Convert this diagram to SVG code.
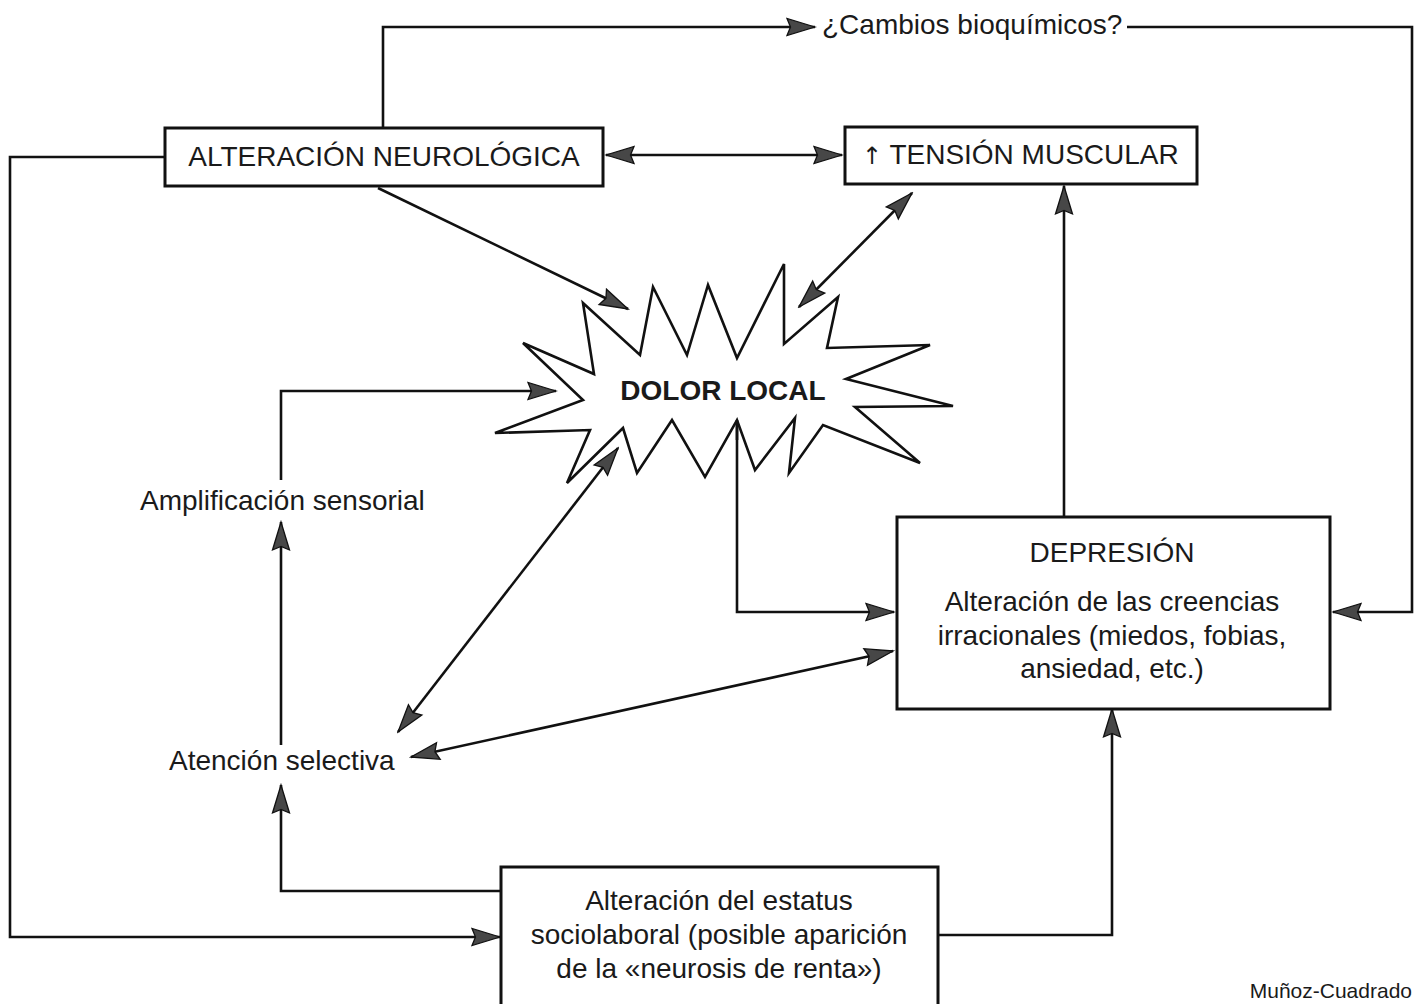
<svg xmlns="http://www.w3.org/2000/svg" width="1420" height="1004" viewBox="0 0 1420 1004">
<defs>
<marker id="ah" viewBox="-30 -10 32 20" refX="0" refY="0" markerWidth="32" markerHeight="20" markerUnits="userSpaceOnUse" orient="auto-start-reverse">
<path d="M0,0 L-28,-8.5 L-24.5,0 L-28,8.5 Z" fill="#474747" stroke="#111" stroke-width="1.3" stroke-linejoin="miter"/>
</marker>
<style>
.t{font-family:"Liberation Sans","DejaVu Sans",Arial,sans-serif;font-size:28px;fill:#1a1a1a}
.c{text-anchor:middle}
.box{fill:#fff;stroke:#111;stroke-width:3}
.ln{fill:none;stroke:#111;stroke-width:2.6;stroke-linejoin:miter}
.a1{marker-end:url(#ah)}
.a2{marker-start:url(#ah);marker-end:url(#ah)}
</style>
</defs>
<rect width="1420" height="1004" fill="#fff"/>

<g id="connectors">
<path class="ln a1" d="M383,128 V27 H815"/>
<path class="ln a1" d="M1127,27 H1412 V612 H1333"/>
<path class="ln a2" d="M606,155 H842"/>
<path class="ln a1" d="M165,157 H10 V937 H500"/>
<path class="ln a1" d="M378,188 L628,309"/>
<path class="ln a2" d="M912,193 L799,307"/>
<path class="ln a1" d="M1064,517 V186"/>
<path class="ln a1" d="M281,480 V391 H556"/>
<path class="ln a1" d="M281,745 V522"/>
<path class="ln a2" d="M398,732 L618,448"/>
<path class="ln a2" d="M411,757 L893,651"/>
<path class="ln a1" d="M737,421 V612 H894"/>
<path class="ln a1" d="M501,891 H281 V785"/>
<path class="ln a1" d="M938,935 H1112 V709"/>
</g>

<g id="n-cambios">
<text class="t" x="822" y="34">¿Cambios bioquímicos?</text>
</g>

<g id="n-neuro">
<rect class="box" x="165" y="128" width="438" height="58"/>
<text class="t c" x="384" y="166">ALTERACIÓN NEUROLÓGICA</text>
</g>

<g id="n-tension">
<rect class="box" x="845" y="127" width="352" height="57"/>
<text class="t" x="862" y="164"><tspan style="font-family:'DejaVu Sans',sans-serif;font-size:24px">↑</tspan> TENSIÓN MUSCULAR</text>
</g>

<g id="n-dolor">
<polygon points="583,303 640,355 653,287 687,355 708,285 737,358 784,264 784,344 838,297 827,348 930,345 846,379 953,406 855,407 920,463 823,425 789,473 795,418 755,470 737,420 705,477 672,420 637,473 623,428 567,483 590,430 495,433 583,400 523,343 594,374" fill="#fff" stroke="#111" stroke-width="2.6" stroke-linejoin="miter"/>
<line x1="737" y1="420" x2="737" y2="440" stroke="#111" stroke-width="2.6"/>
<text class="t c" x="723" y="400" style="font-weight:bold">DOLOR LOCAL</text>
</g>

<g id="n-amplificacion">
<text class="t" x="140" y="510">Amplificación sensorial</text>
</g>

<g id="n-atencion">
<text class="t" x="169" y="770">Atención selectiva</text>
</g>

<g id="n-depresion">
<rect class="box" x="897" y="517" width="433" height="192"/>
<text class="t c" x="1112" y="562">DEPRESIÓN</text>
<text class="t c" x="1112" y="611">Alteración de las creencias</text>
<text class="t c" x="1112" y="645">irracionales (miedos, fobias,</text>
<text class="t c" x="1112" y="678">ansiedad, etc.)</text>
</g>

<g id="n-estatus">
<rect class="box" x="501" y="867" width="437" height="145"/>
<text class="t c" x="719" y="910">Alteración del estatus</text>
<text class="t c" x="719" y="944">sociolaboral (posible aparición</text>
<text class="t c" x="719" y="978">de la «neurosis de renta»)</text>
</g>

<text class="t" x="1412" y="998" text-anchor="end" style="font-size:21px">Muñoz-Cuadrado</text>
</svg>
